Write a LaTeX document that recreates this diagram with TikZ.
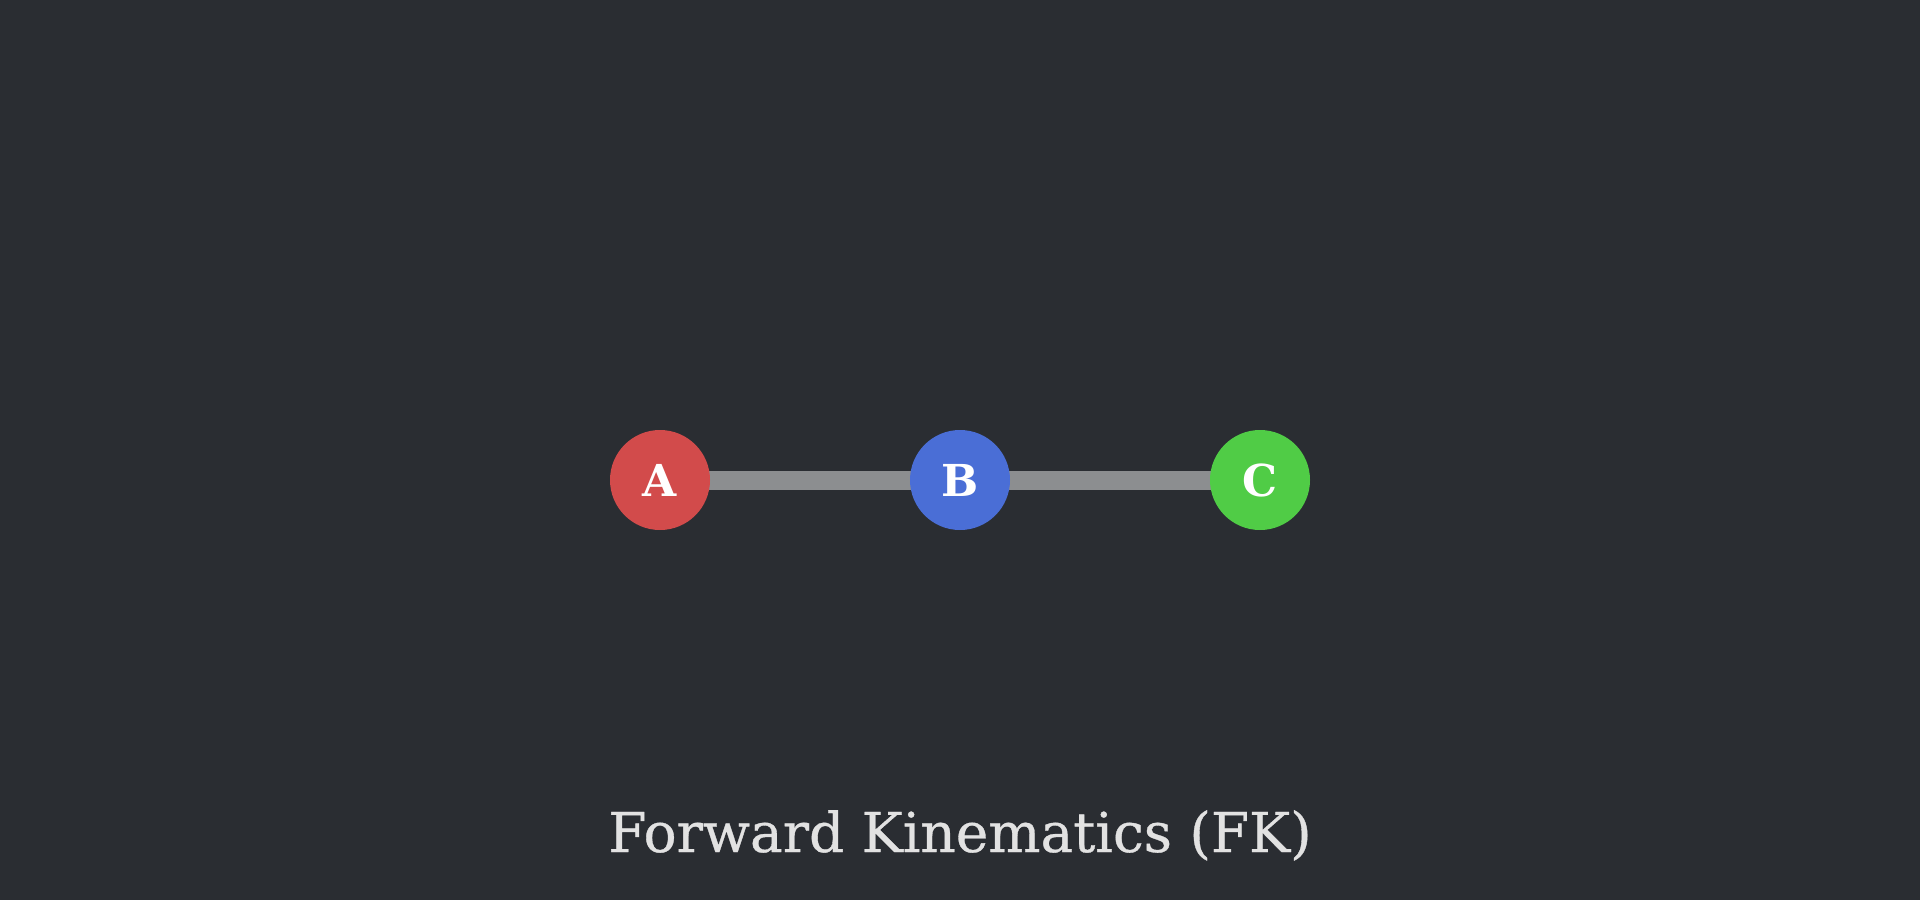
\documentclass[tikz,border=0pt]{standalone}
\usepackage{fontspec}
\usetikzlibrary{backgrounds}
\newfontfamily\titlefont[FakeBold=0.6]{DejaVu Serif}
\newfontfamily\jointfont{DejaVu Serif}
\definecolor{bg}{HTML}{2A2D32}
\definecolor{jred}{HTML}{D24B4B}
\definecolor{jblue}{HTML}{4A6ED6}
\definecolor{jgreen}{HTML}{50CC46}
\definecolor{bone}{HTML}{8C8E90}
\definecolor{ttext}{HTML}{E2E2E2}
\tikzset{
  joint/.style={circle, minimum size=100pt, inner sep=0pt, text=white,
    font=\jointfont\bfseries\fontsize{44}{44}\selectfont},
  bone/.style={line width=19pt, draw=bone},
}
\begin{document}
\begin{tikzpicture}[x=1pt,y=-1pt]
\node[joint, fill=jred] (A) at (660,480) {A};
\node[joint, fill=jblue] (B) at (960,480) {B};
\node[joint, fill=jgreen] (C) at (1260,480) {C};
\node[text=ttext, font=\titlefont\fontsize{55}{55}\selectfont, anchor=base] (T) at (960,852) {Forward Kinematics (FK)};
\begin{scope}[on background layer]
\fill[bg] (0,0) rectangle (1920,900);
\draw[bone] (A.center) -- (B.center);
\draw[bone] (B.center) -- (C.center);
\end{scope}
\useasboundingbox (0,0) rectangle (1920,900);
\end{tikzpicture}
\end{document}
